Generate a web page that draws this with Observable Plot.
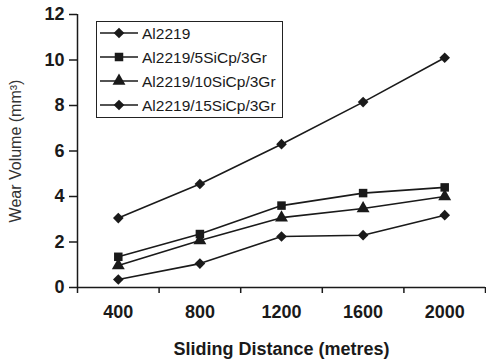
<!DOCTYPE html>
<html>
<head>
<meta charset="utf-8">
<script src="https://cdn.jsdelivr.net/npm/d3@7"></script>
<script src="https://cdn.jsdelivr.net/npm/@observablehq/plot@0.6"></script>
<style>
  body { margin: 0; background: #fff; }
  #wrap { position: relative; width: 486px; height: 360px; font-family: "Liberation Sans", Arial, Helvetica, sans-serif; }
  #legend { position: absolute; left: 96px; top: 21px; width: 187px; height: 97px; box-sizing: border-box; border: 1.5px solid #222; background: #fff; }
</style>
</head>
<body>
<div id="wrap"><div id="legend"></div></div>
<script>
// ---- data ----
const distances = [400, 800, 1200, 1600, 2000];
const seriesNames = ["Al2219", "Al2219/5SiCp/3Gr", "Al2219/10SiCp/3Gr", "Al2219/15SiCp/3Gr"];
const al2219 = [3.05, 4.55, 6.3, 8.15, 10.1];
const al5SiCp = [1.35, 2.35, 3.6, 4.15, 4.4];
const al10SiCp = [0.97, 2.07, 3.07, 3.47, 4.0];
const al15SiCp = [0.35, 1.05, 2.24, 2.3, 3.18];
const seriesSymbols = ["diamond2", "square", "triangle", "diamond2"];
const yTicks = [0, 2, 4, 6, 8, 10, 12];
const xBandEdges = [200, 600, 1000, 1400, 1800, 2200];

const seriesValues = [al2219, al5SiCp, al10SiCp, al15SiCp];
const rows = [];
seriesNames.forEach((name, i) => {
  distances.forEach((d, j) => rows.push({series: name, distance: d, wear: seriesValues[i][j]}));
});

const ink = "#1a1a1a";
const font = "'Liberation Sans', Arial, Helvetica, sans-serif";
const R = 4.8;

const chart = Plot.plot({
  width: 486,
  height: 360,
  marginLeft: 77,
  marginRight: 1,
  marginTop: 14,
  marginBottom: 73,
  style: {fontFamily: font, color: ink, background: "#fff", overflow: "visible"},
  x: {type: "linear", domain: [xBandEdges[0], xBandEdges[xBandEdges.length - 1]]},
  y: {domain: [yTicks[0], yTicks[yTicks.length - 1]]},
  symbol: {domain: seriesNames, range: seriesSymbols},
  marks: [
    Plot.axisY(yTicks, {tickSize: 8, tickPadding: 5, fontSize: 18, fontWeight: "bold", stroke: ink, strokeWidth: 1.5,
      tickFormat: d => String(d), label: null}),
    Plot.axisY([], {tickSize: 0, fontSize: 16, fontWeight: "normal", fill: "#333",
      label: "Wear Volume (mm³)", labelAnchor: "center", labelArrow: "none", labelOffset: 68}),
    Plot.axisX(xBandEdges, {tickSize: 6, tickFormat: () => "", stroke: ink, strokeWidth: 1.5, label: null}),
    Plot.axisX(distances, {tickSize: 0, tickPadding: 18, fontSize: 18, fontWeight: "bold", tickFormat: d => String(d),
      label: "Sliding Distance (metres)", labelAnchor: "center", labelArrow: "none", labelOffset: 67}),
    Plot.ruleX([xBandEdges[0]], {stroke: ink, strokeWidth: 1.5}),
    Plot.ruleY([yTicks[0]], {stroke: ink, strokeWidth: 1.5}),
    Plot.line(rows, {x: "distance", y: "wear", z: "series", stroke: ink, strokeWidth: 1.6}),
    Plot.dot(rows, {x: "distance", y: "wear", symbol: "series", fill: ink, stroke: "none", r: R})
  ]
});
document.getElementById("wrap").prepend(chart);

// legend
const lg = d3.select("#legend").append("svg").attr("width", 184).attr("height", 94)
  .style("position", "absolute").style("left", "0px").style("top", "0px");
const symMap = {diamond2: d3.symbolDiamond2, square: d3.symbolSquare, triangle: d3.symbolTriangle};
seriesNames.forEach((name, i) => {
  const y = 11 + 24 * i;
  lg.append("line").attr("x1", 3).attr("x2", 41).attr("y1", y).attr("y2", y).attr("stroke", ink).attr("stroke-width", 1.6);
  lg.append("path").attr("d", d3.symbol(symMap[seriesSymbols[i]], Math.PI * R * R)())
    .attr("transform", `translate(22,${y})`).attr("fill", ink);
  lg.append("text").attr("x", 45).attr("y", y + 5.5).attr("font-size", 15.5).attr("font-family", font)
    .attr("fill", ink).text(name);
});
</script>
</body>
</html>
